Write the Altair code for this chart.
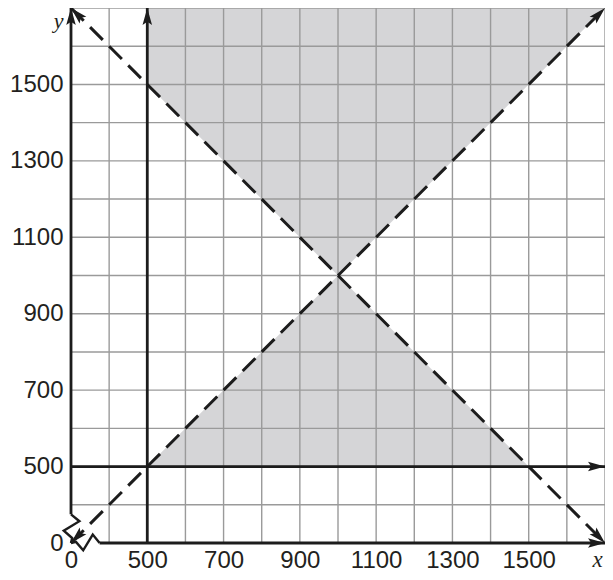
import altair as alt
import pandas as pd

# ---- axis ticks / labels ----
tick_values = [300, 500, 700, 900, 1100, 1300, 1500]
tick_labels = ["0", "500", "700", "900", "1100", "1300", "1500"]
grid_values = [400, 500, 600, 700, 800, 900, 1000, 1100, 1200, 1300, 1400, 1500, 1600, 1700]
axis_min = 300
axis_max = 1700

# ---- shaded feasible regions ----
top_x = [500, 1000, 1700]
top_low = [1500, 1000, 1700]
top_high = [1700, 1700, 1700]
bot_x = [500, 1000, 1500]
bot_low = [500, 500, 500]
bot_high = [500, 1000, 500]

# ---- solid lines (axes and x=500, y=500) ----
vline_x = [300, 500]
vline_from = [375, 300]
hline_y = [300, 500]
hline_from = [375, 300]

# ---- axis break zigzags ----
zig_id = ["y", "y", "y", "y", "y", "x", "x", "x", "x", "x"]
zig_x = [300, 322, 281, 303, 300, 300, 313, 332, 357, 375]
zig_y = [375, 357, 332, 313, 300, 300, 303, 281, 322, 300]

# ---- dashed boundary lines ----
dash_id = ["a", "a", "b", "b"]
dash_x = [300, 1700, 300, 1700]
dash_y = [300, 1700, 1700, 300]

# ---- arrowheads ----
arrow_x = [300, 500, 1700, 1700, 1700, 300, 300, 1700]
arrow_y = [1700, 1700, 500, 300, 1700, 1700, 300, 300]
arrow_angle = [0, 0, 90, 90, 45, 315, 225, 135]

INK = "#1c1c1c"
GRID = "#9a9a9a"
SHADE = "#d5d5d7"
FONT = "Liberation Sans"

label_expr = ""
for v, lab in zip(tick_values, tick_labels):
    label_expr += f"datum.value == {v} ? '{lab}' : "
label_expr += "''"

xscale = alt.Scale(domain=[axis_min, axis_max], nice=False, zero=False)
yscale = alt.Scale(domain=[axis_min, axis_max], nice=False, zero=False)

xaxis = alt.Axis(values=tick_values, labelExpr=label_expr, domain=False, ticks=False,
                 grid=False, labelFontSize=24, labelFont=FONT,
                 labelColor="#231f20", labelPadding=5, labelFlush=False,
                 labelOverlap=False, title="x", titleFont="Liberation Serif",
                 titleFontStyle="italic", titleFontWeight="normal", titleFontSize=23,
                 titleColor="#231f20", titleX=526, titleY=23, titleAlign="center",
                 titleBaseline="alphabetic")
yaxis = alt.Axis(values=tick_values, labelExpr=label_expr, domain=False, ticks=False,
                 grid=False, labelFontSize=24, labelFont=FONT,
                 labelColor="#231f20", labelPadding=8, labelFlush=False,
                 labelOverlap=False, title="y", titleFont="Liberation Serif",
                 titleFontStyle="italic", titleFontWeight="normal", titleFontSize=22,
                 titleColor="#231f20", titleAngle=0, titleX=-13, titleY=19,
                 titleAlign="center", titleBaseline="alphabetic")


def X(f):
    return alt.X(f, type="quantitative", scale=xscale, axis=xaxis)


def Y(f):
    return alt.Y(f, type="quantitative", scale=yscale, axis=yaxis)


shade_df = pd.DataFrame({
    "x": top_x + bot_x,
    "lo": top_low + bot_low,
    "hi": top_high + bot_high,
    "region": ["top"] * len(top_x) + ["bottom"] * len(bot_x),
})
shade = alt.Chart(shade_df).mark_area(color=SHADE, opacity=1).encode(
    x=X("x"), y=Y("lo"), y2="hi", detail="region:N")

gv = pd.DataFrame({"x": grid_values, "a": axis_min, "b": axis_max})
grid_v = alt.Chart(gv).mark_rule(color=GRID, strokeWidth=1.4).encode(
    x=X("x"), y=Y("a"), y2="b")
gh = pd.DataFrame({"y": grid_values, "a": axis_min, "b": axis_max})
grid_h = alt.Chart(gh).mark_rule(color=GRID, strokeWidth=1.4).encode(
    y=Y("y"), x=X("a"), x2="b")

vdf = pd.DataFrame({"x": vline_x, "a": vline_from, "b": axis_max})
vlines = alt.Chart(vdf).mark_rule(color=INK, strokeWidth=2.8).encode(
    x=X("x"), y=Y("a"), y2="b")
hdf = pd.DataFrame({"y": hline_y, "a": hline_from, "b": axis_max})
hlines = alt.Chart(hdf).mark_rule(color=INK, strokeWidth=2.8).encode(
    y=Y("y"), x=X("a"), x2="b")

zdf = pd.DataFrame({"id": zig_id, "x": zig_x, "y": zig_y, "o": list(range(len(zig_x)))})
zig = alt.Chart(zdf).mark_line(color=INK, strokeWidth=2.4, strokeJoin="miter").encode(
    x=X("x"), y=Y("y"), detail="id:N", order="o:Q")

ddf = pd.DataFrame({"id": dash_id, "x": dash_x, "y": dash_y, "o": list(range(len(dash_x)))})
dashed = alt.Chart(ddf).mark_line(color=INK, strokeWidth=3, strokeDash=[18, 9],
                                   strokeCap="butt").encode(
    x=X("x"), y=Y("y"), detail="id:N", order="o:Q")

adf = pd.DataFrame({"x": arrow_x, "y": arrow_y, "ang": arrow_angle})
arrows = alt.Chart(adf).mark_point(
    shape="M0,0 L0.56,2 L0,1.62 L-0.56,2 Z", filled=True, color=INK,
    opacity=1, size=289, strokeWidth=0).encode(
    x=X("x"), y=Y("y"), angle=alt.Angle("ang:Q", scale=None))

chart = alt.layer(shade, grid_v, grid_h, vlines, hlines, zig, dashed, arrows).properties(
    width=534, height=535,
    autosize=alt.AutoSizeParams(type="none"),
    padding={"left": 63, "top": 0, "right": 0, "bottom": 29},
    background="white",
).configure_view(stroke=None)

chart.save("out.html", embed_options={"renderer": "svg", "actions": False})
